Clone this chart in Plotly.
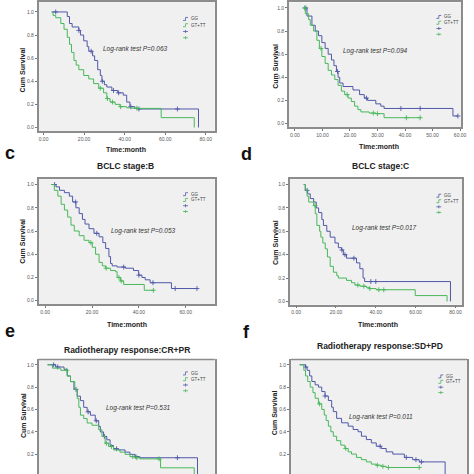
import plotly.graph_objects as go

W = H = 474
BLUE = "#5058a8"
GREEN = "#48b85a"
FONT = "Liberation Sans, Arial, sans-serif"

# ---------------- data (time in months, cumulative survival) ----------------
# panel a (no title, letter above next row)
a_gg_t = [4.0, 11.7, 12.8, 14.1, 17.4, 18.2, 19.8, 21.5, 22.3, 24.2, 25.2, 26.7, 28.0, 28.8, 30.0, 31.2, 33.7, 36.6, 39.3, 41.0, 42.6, 45.0, 46.7, 76.4]
a_gg_s = [1.0, 0.96, 0.90, 0.87, 0.84, 0.80, 0.75, 0.70, 0.66, 0.62, 0.58, 0.50, 0.45, 0.40, 0.37, 0.35, 0.32, 0.30, 0.28, 0.22, 0.18, 0.165, 0.16, 0.0]
a_gg_c = [6.0, 17.4, 23.5, 29.0, 34.5, 37.0, 43.0, 47.0, 66.0]
a_gt_t = [4.0, 4.7, 6.0, 8.5, 10.1, 11.7, 12.8, 13.8, 15.0, 16.1, 17.4, 19.8, 22.3, 24.7, 27.2, 29.6, 31.2, 32.8, 35.3, 37.7, 41.0, 43.4, 46.7, 58.0, 74.3]
a_gt_s = [1.0, 0.97, 0.95, 0.90, 0.85, 0.78, 0.72, 0.65, 0.58, 0.54, 0.50, 0.45, 0.42, 0.38, 0.34, 0.30, 0.25, 0.22, 0.20, 0.18, 0.17, 0.167, 0.165, 0.085, 0.0]
a_gt_c = [28.0, 31.5, 34.0, 38.0, 46.0]
a_p = "Log-rank test P=0.063"

# panel b
b_gg_t = [3.2, 4.4, 6.2, 7.4, 8.6, 9.8, 11.0, 12.1, 13.3, 14.2, 15.1, 15.7, 16.3, 17.5, 21.1, 23.5, 25.2, 26.4, 29.4, 31.2, 32.4, 57.4, 59.2]
b_gg_s = [1.0, 0.93, 0.85, 0.80, 0.76, 0.70, 0.65, 0.60, 0.55, 0.50, 0.45, 0.40, 0.35, 0.32, 0.29, 0.25, 0.22, 0.20, 0.17, 0.15, 0.13, 0.065, 0.065]
b_gg_c = [4.0, 15.5, 26.0, 38.5, 45.5, 59.2]
b_gt_t = [3.2, 3.8, 5.0, 5.6, 6.8, 8.0, 8.9, 9.8, 11.0, 12.1, 13.3, 14.5, 15.7, 16.9, 18.1, 19.3, 20.5, 21.7, 22.9, 24.0, 27.0, 29.4, 32.4, 45.5]
b_gt_s = [1.0, 0.95, 0.90, 0.85, 0.80, 0.72, 0.65, 0.58, 0.52, 0.46, 0.42, 0.38, 0.33, 0.28, 0.25, 0.22, 0.19, 0.15, 0.12, 0.10, 0.09, 0.085, 0.05, 0.05]
b_gt_c = [3.5, 9.5, 19.0, 28.5, 30.0, 40.5, 45.5]
b_p = "Log-rank test P=0.094"

# panel c : BCLC stage B
c_gg_t = [2.5, 4.6, 6.1, 8.2, 10.3, 11.7, 13.1, 14.5, 15.9, 17.0, 18.7, 20.8, 23.0, 24.6, 25.8, 27.2, 27.9, 28.6, 30.7, 34.2, 37.7, 39.9, 41.3, 42.7, 44.8, 53.9, 64.8]
c_gg_s = [1.0, 0.98, 0.95, 0.93, 0.90, 0.85, 0.80, 0.75, 0.70, 0.66, 0.62, 0.58, 0.55, 0.50, 0.45, 0.38, 0.32, 0.30, 0.29, 0.28, 0.26, 0.22, 0.20, 0.18, 0.155, 0.105, 0.105]
c_gg_c = [4.0, 13.0, 22.0, 33.5, 40.0, 46.0, 55.5, 64.8]
c_gt_t = [2.5, 3.9, 5.4, 6.8, 8.2, 9.6, 11.0, 12.4, 14.5, 16.6, 18.7, 20.1, 21.5, 23.0, 24.4, 25.8, 27.9, 30.0, 30.7, 32.1, 33.5, 42.3, 46.2]
c_gt_s = [1.0, 0.95, 0.90, 0.83, 0.78, 0.72, 0.65, 0.60, 0.56, 0.52, 0.50, 0.46, 0.40, 0.33, 0.30, 0.28, 0.26, 0.25, 0.20, 0.17, 0.14, 0.09, 0.09]
c_gt_c = [19.5, 26.0, 31.5, 32.5, 46.2]
c_p = "Log-rank test P=0.053"
c_title = "BCLC stage:B"

# panel d : BCLC stage C
d_gg_t = [3.8, 4.6, 5.8, 7.1, 8.8, 10.1, 11.3, 12.9, 13.7, 15.4, 17.1, 19.5, 21.2, 22.8, 23.7, 25.3, 30.3, 32.0, 33.6, 34.4, 77.5]
d_gg_s = [1.0, 0.95, 0.92, 0.88, 0.85, 0.80, 0.76, 0.70, 0.65, 0.60, 0.55, 0.50, 0.46, 0.44, 0.40, 0.37, 0.33, 0.28, 0.20, 0.17, 0.0]
d_gg_c = [5.5, 23.0, 24.5, 29.0, 37.5, 40.0]
d_gt_t = [3.8, 4.6, 5.5, 6.3, 8.8, 9.6, 10.4, 11.8, 12.4, 13.4, 14.6, 15.7, 17.1, 18.7, 20.4, 21.2, 25.3, 27.8, 29.5, 32.0, 35.3, 36.9, 40.2, 59.8, 75.8]
d_gt_s = [1.0, 0.95, 0.90, 0.85, 0.82, 0.75, 0.65, 0.60, 0.55, 0.50, 0.45, 0.38, 0.30, 0.25, 0.22, 0.20, 0.18, 0.16, 0.14, 0.13, 0.12, 0.11, 0.10, 0.05, 0.0]
d_gt_c = [9.5, 31.0, 34.0, 37.0, 41.5, 44.0]
d_p = "Log-rank test P=0.017"
d_title = "BCLC stage:C"

# panel e : Radiotherapy response CR+PR
e_gg_t = [2.0, 6.0, 10.1, 11.7, 13.3, 15.0, 16.6, 18.2, 19.8, 21.5, 23.1, 25.5, 27.2, 28.0, 29.6, 31.2, 32.8, 34.5, 36.9, 40.2, 42.6, 45.0, 47.5, 75.9]
e_gg_s = [1.0, 0.98, 0.96, 0.90, 0.85, 0.78, 0.72, 0.68, 0.62, 0.58, 0.55, 0.50, 0.45, 0.40, 0.36, 0.33, 0.28, 0.25, 0.24, 0.22, 0.20, 0.18, 0.17, 0.0]
e_gg_c = [5.0, 7.0, 16.0, 22.0, 26.0, 30.0, 36.0, 45.5, 66.0]
e_gt_t = [2.0, 4.4, 8.5, 11.7, 13.3, 15.4, 16.6, 17.4, 18.2, 19.8, 21.5, 23.9, 27.2, 28.8, 30.4, 32.0, 34.5, 37.7, 40.2, 42.6, 45.0, 47.5, 57.7, 74.3]
e_gt_s = [1.0, 0.97, 0.95, 0.90, 0.85, 0.78, 0.70, 0.62, 0.55, 0.52, 0.48, 0.46, 0.42, 0.36, 0.30, 0.27, 0.24, 0.22, 0.20, 0.18, 0.17, 0.16, 0.08, 0.0]
e_gt_c = [11.5, 31.0, 33.5, 44.0, 46.0, 57.0]
e_p = "Log-rank test P=0.531"
e_title = "Radiotherapy response:CR+PR"

# panel f : Radiotherapy response SD+PD
f_gg_t = [1.3, 3.4, 4.0, 4.9, 5.7, 6.9, 8.1, 9.3, 10.5, 11.7, 12.9, 13.5, 14.7, 16.5, 18.9, 20.7, 22.5, 23.7, 25.5, 27.3, 29.1, 30.9, 32.7, 35.1, 39.3, 42.3, 44.7, 54.1]
f_gg_s = [1.0, 0.98, 0.95, 0.90, 0.85, 0.82, 0.80, 0.76, 0.72, 0.68, 0.62, 0.58, 0.52, 0.48, 0.45, 0.42, 0.40, 0.36, 0.33, 0.30, 0.27, 0.25, 0.22, 0.20, 0.17, 0.15, 0.13, 0.0]
f_gg_c = [3.5, 10.5, 30.5, 40.0, 43.5, 45.5]
f_gt_t = [1.3, 2.8, 3.4, 4.2, 5.1, 6.1, 6.9, 8.1, 9.3, 10.2, 10.9, 11.7, 12.6, 13.5, 14.7, 16.2, 17.7, 18.9, 20.1, 21.9, 23.7, 25.5, 27.3, 29.1, 30.9, 32.7, 44.7]
f_gt_s = [1.0, 0.95, 0.90, 0.85, 0.80, 0.75, 0.70, 0.65, 0.60, 0.55, 0.50, 0.45, 0.40, 0.36, 0.32, 0.28, 0.25, 0.22, 0.20, 0.17, 0.15, 0.13, 0.11, 0.10, 0.09, 0.08, 0.08]
f_gt_c = [8.5, 18.0, 29.5, 31.5, 33.5, 44.7]
f_p = "Log-rank test P=0.011"
f_title = "Radiotherapy response:SD+PD"

groups = ["GG", "GT+TT"]
x_ticks_a = [0, 20, 40, 60, 80]
x_ticks_b = [0, 10, 20, 30, 40, 50, 60]
x_ticks_c = [0, 20, 40, 60]
x_ticks_d = [0, 20, 40, 60, 80]
y_ticks = [0.0, 0.2, 0.4, 0.6, 0.8, 1.0]

# ---------------- layout geometry (pixels) ----------------
def px(x):
    return x / W

def py(y):
    return 1 - y / H

def lin(v0, p0, v1, p1, p):
    return v0 + (p - p0) * (v1 - v0) / (p1 - p0)

geo = {
    "a": dict(bx=(39, 217), xc=(0, 44, 80, 208), by=(0, 129.5), yc=(1.0, 10, 0.0, 126), xt=x_ticks_a, showx=True),
    "b": dict(bx=(292, 466), xc=(0, 298, 60, 465), by=(0.5, 125.5), yc=(1.0, 6, 0.0, 122), xt=x_ticks_b, showx=True),
    "c": dict(bx=(39, 217), xc=(0, 45.7, 60, 187.7), by=(178, 303.5), yc=(1.0, 183.3, 0.0, 300), xt=x_ticks_c, showx=True),
    "d": dict(bx=(293, 467), xc=(0, 299.3, 80, 460.3), by=(178, 304), yc=(1.0, 183.3, 0.0, 300.7), xt=x_ticks_d, showx=True),
    "e": dict(bx=(39, 217), xc=(0, 44, 80, 208), by=(359, 474), yc=(1.0, 364.3, 0.2, 454.3), xt=[], showx=False),
    "f": dict(bx=(294, 472), xc=(0, 299.3, 60, 466.3), by=(359, 474), yc=(1.0, 364.3, 0.2, 454.0), xt=[], showx=False),
}

curves = {
    "a": (a_gg_t, a_gg_s, a_gg_c, a_gt_t, a_gt_s, a_gt_c),
    "b": (b_gg_t, b_gg_s, b_gg_c, b_gt_t, b_gt_s, b_gt_c),
    "c": (c_gg_t, c_gg_s, c_gg_c, c_gt_t, c_gt_s, c_gt_c),
    "d": (d_gg_t, d_gg_s, d_gg_c, d_gt_t, d_gt_s, d_gt_c),
    "e": (e_gg_t, e_gg_s, e_gg_c, e_gt_t, e_gt_s, e_gt_c),
    "f": (f_gg_t, f_gg_s, f_gg_c, f_gt_t, f_gt_s, f_gt_c),
}


def surv_at(ts, ss, t):
    v = ss[0]
    for ti, si in zip(ts, ss):
        if ti <= t:
            v = si
    return v


fig = go.Figure()
layout = {}
shapes = []
annotations = []

for i, key in enumerate(["a", "b", "c", "d", "e", "f"], start=1):
    g = geo[key]
    sfx = "" if i == 1 else str(i)
    xa, ya = "x" + sfx, "y" + sfx
    v0, p0, v1, p1 = g["xc"]
    xr = [lin(v0, p0, v1, p1, g["bx"][0]), lin(v0, p0, v1, p1, g["bx"][1])]
    yv0, yp0, yv1, yp1 = g["yc"]
    yr = [lin(yv0, yp0, yv1, yp1, g["by"][1]), lin(yv0, yp0, yv1, yp1, g["by"][0])]

    layout["xaxis" + sfx] = dict(
        domain=[px(g["bx"][0]), px(g["bx"][1])], range=xr, anchor=ya,
        showgrid=False, zeroline=False,
        showline=g["showx"], mirror=g["showx"], linecolor="#8c8c8c", linewidth=1.5,
        ticks="outside" if g["showx"] else "", ticklen=2, tickcolor="#777",
        tickvals=g["xt"], ticktext=["%.2f" % v for v in g["xt"]],
        showticklabels=g["showx"], tickfont=dict(size=5, color="#555", family=FONT),
    )
    layout["yaxis" + sfx] = dict(
        domain=[max(0.0, py(g["by"][1])), min(1.0, py(g["by"][0]))], range=yr, anchor=xa,
        showgrid=False, zeroline=False, showline=True, mirror=True,
        linecolor="#8c8c8c", linewidth=1.5,
        ticks="outside", ticklen=2, tickcolor="#777",
        tickvals=y_ticks, ticktext=["%.1f" % v for v in y_ticks],
        tickfont=dict(size=5, color="#555", family=FONT),
    )
    if not g["showx"]:
        shapes.append(dict(type="line", xref="paper", yref="paper",
                           x0=px(g["bx"][0]), x1=px(g["bx"][1]),
                           y0=py(g["by"][0]), y1=py(g["by"][0]),
                           line=dict(color="#8c8c8c", width=1.5)))

    gg_t, gg_s, gg_c, gt_t, gt_s, gt_c = curves[key]
    for name, ts, ss, cs, col in [("GG", gg_t, gg_s, gg_c, BLUE), ("GT+TT", gt_t, gt_s, gt_c, GREEN)]:
        fig.add_trace(go.Scatter(x=ts, y=ss, mode="lines", line=dict(color=col, width=1, shape="hv"),
                                 name=name, xaxis=xa, yaxis=ya, showlegend=False, hoverinfo="skip"))
        fig.add_trace(go.Scatter(x=cs, y=[surv_at(ts, ss, t) for t in cs], mode="markers",
                                 marker=dict(symbol="cross-thin", size=3.5, line=dict(color=col, width=0.9)),
                                 name=name + "-censored", xaxis=xa, yaxis=ya, showlegend=False, hoverinfo="skip"))

# ---------------- text ----------------
def ann(text, x, y, size, bold=False, italic=False, color="#222", angle=0, xanchor="center"):
    t = text
    if bold:
        t = "<b>" + t + "</b>"
    if italic:
        t = "<i>" + t + "</i>"
    annotations.append(dict(text=t, x=px(x), y=py(y), xref="paper", yref="paper", showarrow=False,
                            xanchor=xanchor, yanchor="middle", textangle=angle,
                            font=dict(size=size, color=color, family=FONT)))

# log-rank texts
for txt, x, y in [(a_p, 137, 47), (b_p, 379, 49), (c_p, 145, 230), (d_p, 389, 227), (e_p, 140, 408), (f_p, 385, 417)]:
    ann(txt, x, y, 6.5, italic=True, color="#333")

# axis titles
for x, y in [(23, 68), (279, 65), (23, 240), (279, 242), (23, 415), (277, 413)]:
    ann("Cum Survival", x, y, 7, bold=True, angle=-90)
for x, y in [(127, 148), (383, 145), (128, 324), (382, 324)]:
    ann("Time:month", x, y, 7, bold=True)

# panel titles
for txt, x, y in [(c_title, 127, 165), (d_title, 385, 165), (e_title, 128, 349), (f_title, 384, 345)]:
    ann(txt, x, y, 8.5, bold=True)

# panel letters
for txt, x, y in [("c", 3, 152), ("d", 242, 153), ("e", 3, 330), ("f", 244, 331)]:
    ann(txt, x, y, 18, bold=True, color="#111", xanchor="left")

# legends (drawn as small glyphs + text)
legend_pos = [(185, 17, 6.3), (441, 15, 5.8), (185, 193, 5.8), (441, 194.5, 5.6), (185, 373, 5.8), (443, 376, 5.4)]
for lx, ly, dy in legend_pos:
    for r, (col, label) in enumerate([(BLUE, groups[0]), (GREEN, groups[1])]):
        yy = ly + r * dy
        path = "M %f,%f L %f,%f L %f,%f L %f,%f" % (
            px(lx), py(yy + 1.5), px(lx + 2.5), py(yy + 1.5),
            px(lx + 2.5), py(yy - 1.5), px(lx + 5), py(yy - 1.5))
        shapes.append(dict(type="path", xref="paper", yref="paper", path=path,
                           line=dict(color=col, width=0.8)))
        ann(label, lx + 5.8, yy, 4.5, color="#444", xanchor="left")
    for r, col in enumerate([BLUE, GREEN]):
        yy = ly + (r + 2) * dy
        shapes.append(dict(type="line", xref="paper", yref="paper", x0=px(lx), x1=px(lx + 5),
                           y0=py(yy), y1=py(yy), line=dict(color=col, width=0.8)))
        shapes.append(dict(type="line", xref="paper", yref="paper", x0=px(lx + 2.5), x1=px(lx + 2.5),
                           y0=py(yy - 1.5), y1=py(yy + 1.5), line=dict(color=col, width=0.8)))

fig.update_layout(
    width=W, height=H, margin=dict(l=0, r=0, t=0, b=0),
    paper_bgcolor="white", plot_bgcolor="#f0f0f0",
    showlegend=False, shapes=shapes, annotations=annotations,
    font=dict(family=FONT),
    **layout,
)

fig.write_html("out.html", config={"displayModeBar": False},
               post_script="document.body.style.margin='0';document.body.style.padding='0';")
